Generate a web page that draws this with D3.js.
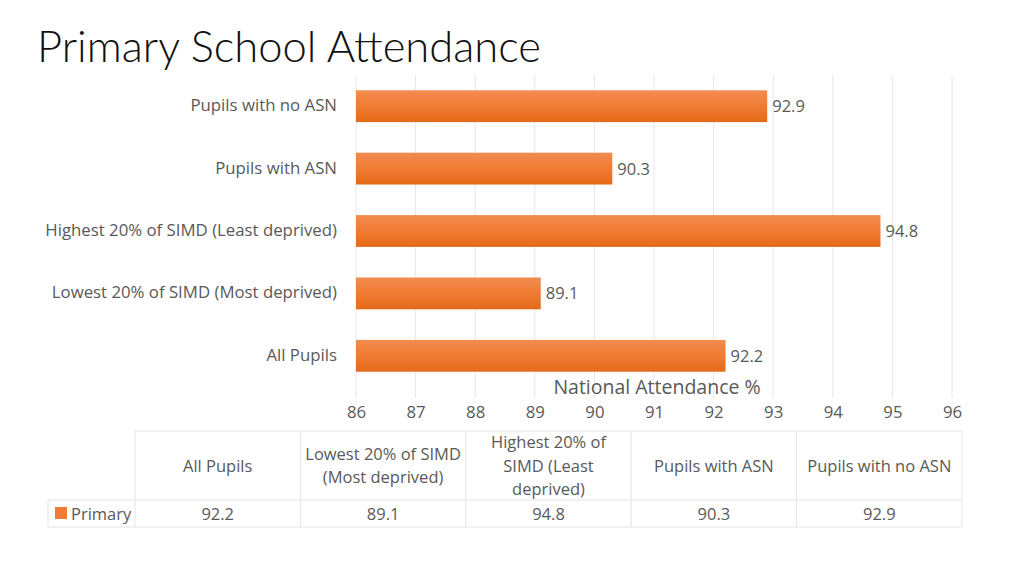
<!DOCTYPE html>
<html><head><meta charset="utf-8">
<script src="https://cdn.jsdelivr.net/npm/d3@7"></script>
<style>body{margin:0;background:#fff;} svg{display:block;}</style>
</head><body>
<svg id="c" width="1024" height="576"></svg>
<script>
const categories = ["All Pupils","Lowest 20% of SIMD (Most deprived)","Highest 20% of SIMD (Least deprived)","Pupils with ASN","Pupils with no ASN"];
const tableHeaders = [["All Pupils"],["Lowest 20% of SIMD","(Most deprived)"],["Highest 20% of","SIMD (Least","deprived)"],["Pupils with ASN"],["Pupils with no ASN"]];
const primary = [92.2, 89.1, 94.8, 90.3, 92.9];
const xTicks = [86,87,88,89,90,91,92,93,94,95,96];
const seriesName = "Primary";

const svg = d3.select("#c");
const font = "'Open Sans', sans-serif";
const txt = "#595959";

const defs = svg.append("defs");
const g = defs.append("linearGradient").attr("id","bg").attr("x1",0).attr("y1",0).attr("x2",0).attr("y2",1);
g.append("stop").attr("offset","0%").attr("stop-color","#F28C50");
g.append("stop").attr("offset","50%").attr("stop-color","#F07B32");
g.append("stop").attr("offset","100%").attr("stop-color","#E36A18");

svg.append("text").attr("x",37).attr("y",62).attr("font-family","'Lato', sans-serif").attr("font-weight",300)
  .attr("font-size",43.5).attr("fill","#111").text("Primary School Attendance");

const x = d3.scaleLinear().domain([86,96]).range([356,952]);
const order = categories.slice().reverse();
const y = d3.scaleBand().domain(order).range([75,387]).paddingInner(0.49).paddingOuter(0.245);

// gridlines
svg.append("g").selectAll("line").data(xTicks).join("line")
  .attr("x1",d=>x(d)).attr("x2",d=>x(d)).attr("y1",75).attr("y2",398)
  .attr("stroke","#e6e6e6").attr("stroke-width",1);

// bars
const data = categories.map((c,i)=>({c, v: primary[i]}));
svg.append("g").selectAll("rect").data(data).join("rect")
  .attr("x",x(86)).attr("y",d=>y(d.c)).attr("width",d=>x(d.v)-x(86)).attr("height",y.bandwidth())
  .attr("fill","url(#bg)");

svg.append("g").selectAll("text").data(data).join("text")
  .attr("x",d=>x(d.v)+5).attr("y",d=>y(d.c)+y.bandwidth()/2+6)
  .attr("font-family",font).attr("font-size",16.5).attr("fill",txt).text(d=>d.v.toFixed(1));

// category labels
svg.append("g").selectAll("text").data(categories).join("text")
  .attr("x",337).attr("y",d=>y(d)+y.bandwidth()/2+5).attr("text-anchor","end")
  .attr("font-family",font).attr("font-size",16.8).attr("fill",txt).text(d=>d);

// x axis
const ax = svg.append("g").attr("transform","translate(0,406)")
  .call(d3.axisBottom(x).tickValues(xTicks).tickSize(0).tickPadding(0).tickFormat(d3.format("d")));
ax.select(".domain").remove();
ax.selectAll("text").attr("font-family",font).attr("font-size",16.8).attr("fill",txt);

svg.append("text").attr("x",657).attr("y",394).attr("text-anchor","middle")
  .attr("font-family",font).attr("font-size",19.5).attr("fill",txt).text("National Attendance %");

// data table
const colX = d3.scaleBand().domain(categories).range([135,962]);
const tTop = 431, tMid = 500, tBot = 527;
const tg = svg.append("g");
const bc = "#e4e4e4";
tg.append("line").attr("x1",135).attr("x2",962).attr("y1",tTop).attr("y2",tTop).attr("stroke",bc);
tg.append("line").attr("x1",48).attr("x2",962).attr("y1",tMid).attr("y2",tMid).attr("stroke",bc);
tg.append("line").attr("x1",48).attr("x2",962).attr("y1",tBot).attr("y2",tBot).attr("stroke",bc);
tg.append("line").attr("x1",48).attr("x2",48).attr("y1",tMid).attr("y2",tBot).attr("stroke",bc);
const bounds = categories.map(c=>colX(c)).concat([962]);
tg.selectAll(".vb").data(bounds).join("line").attr("class","vb")
  .attr("x1",d=>d).attr("x2",d=>d).attr("y1",tTop).attr("y2",tBot).attr("stroke",bc);

categories.forEach((c,i)=>{
  const cx = colX(c)+colX.bandwidth()/2;
  const lines = tableHeaders[i];
  const lh = 23.5;
  const startY = (tTop+tMid)/2 - (lines.length-1)*lh/2 + 6;
  const t = tg.append("text").attr("text-anchor","middle").attr("font-family",font).attr("font-size",16.5).attr("fill",txt);
  lines.forEach((l,j)=>t.append("tspan").attr("x",cx).attr("y",startY+j*lh).text(l));
  tg.append("text").attr("x",cx).attr("y",520).attr("text-anchor","middle").attr("font-family",font)
    .attr("font-size",16.5).attr("fill",txt).text(primary[i].toFixed(1));
});
tg.append("rect").attr("x",55).attr("y",507).attr("width",12).attr("height",12).attr("fill","#F07B32");
tg.append("text").attr("x",71).attr("y",520).attr("font-family",font).attr("font-size",16.5).attr("fill",txt).text(seriesName);
</script>
</body></html>
